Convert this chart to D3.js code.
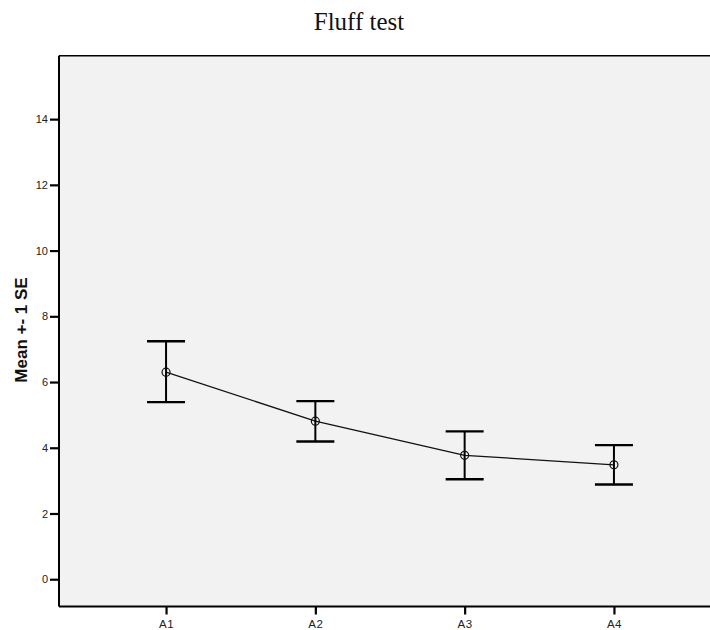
<!DOCTYPE html>
<html><head><meta charset="utf-8">
<script src="https://cdn.jsdelivr.net/npm/d3@7"></script>
<style>body{margin:0;background:#fff}svg{display:block}</style>
</head><body>
<script>
const categories = ["A1","A2","A3","A4"];
const means = [6.30, 4.81, 3.77, 3.48];
const upper = [7.24, 5.42, 4.50, 4.08];
const lower = [5.39, 4.19, 3.04, 2.88];
const yTicks = [0,2,4,6,8,10,12,14];
const title = "Fluff test";
const yLabel = "Mean +- 1 SE";

const W = 710, H = 630;
const pL = 59, pR = 721, pT = 55.7, pB = 606.5;
const svg = d3.select("body").append("svg").attr("width", W).attr("height", H);

const y = d3.scaleLinear().domain([-0.83, 15.93]).range([pB, pT]);
const x = d3.scalePoint().domain(categories).range([pL, pR]).padding(0.717);

svg.append("rect").attr("x", pL).attr("y", pT).attr("width", pR-pL).attr("height", pB-pT).attr("fill", "#f2f2f2");

// borders
svg.append("line").attr("x1", pL).attr("x2", pR).attr("y1", pT).attr("y2", pT).attr("stroke","#000").attr("stroke-width",1.6);
svg.append("line").attr("x1", pL).attr("x2", pR).attr("y1", pB).attr("y2", pB).attr("stroke","#000").attr("stroke-width",2);
svg.append("line").attr("x1", pL).attr("x2", pL).attr("y1", pT).attr("y2", pB).attr("stroke","#000").attr("stroke-width",2);

// y axis
const ya = svg.append("g").attr("transform", `translate(${pL},0)`)
  .call(d3.axisLeft(y).tickValues(yTicks).tickSize(9).tickPadding(2).tickFormat(d3.format("d")));
ya.select(".domain").remove();
ya.selectAll(".tick line").attr("stroke","#000").attr("stroke-width",2.2);
ya.selectAll(".tick text").attr("font-family","Liberation Sans, Arial, sans-serif").attr("font-size",11).attr("fill","#222");

// x axis
const xa = svg.append("g").attr("transform", `translate(0,${pB})`)
  .call(d3.axisBottom(x).tickSize(8).tickPadding(5));
xa.select(".domain").remove();
xa.selectAll(".tick line").attr("stroke","#000").attr("stroke-width",2.2);
xa.selectAll(".tick text").attr("font-family","Liberation Sans, Arial, sans-serif").attr("font-size",11.5).attr("fill","#222").attr("letter-spacing","0.5px");

// line
const line = d3.line().x((d,i)=>x(categories[i])).y(d=>y(d));
svg.append("path").datum(means).attr("d", line).attr("fill","none").attr("stroke","#111").attr("stroke-width",1.3);

// error bars
const capW = 19;
const eb = svg.append("g");
categories.forEach((c,i)=>{
  const cx = x(c);
  eb.append("line").attr("x1",cx).attr("x2",cx).attr("y1",y(upper[i])).attr("y2",y(lower[i])).attr("stroke","#000").attr("stroke-width",2);
  eb.append("line").attr("x1",cx-capW).attr("x2",cx+capW).attr("y1",y(upper[i])).attr("y2",y(upper[i])).attr("stroke","#000").attr("stroke-width",2.4);
  eb.append("line").attr("x1",cx-capW).attr("x2",cx+capW).attr("y1",y(lower[i])).attr("y2",y(lower[i])).attr("stroke","#000").attr("stroke-width",2.4);
  eb.append("circle").attr("cx",cx).attr("cy",y(means[i])).attr("r",4).attr("fill","none").attr("stroke","#111").attr("stroke-width",1.2);
});

// title
svg.append("text").attr("x",359).attr("y",30).attr("text-anchor","middle")
  .attr("font-family","Liberation Serif, Times New Roman, serif").attr("font-size",25).attr("fill","#111").text(title);

// y label
svg.append("text").attr("transform","translate(27,330) rotate(-90)").attr("text-anchor","middle")
  .attr("font-family","Liberation Sans, Arial, sans-serif").attr("font-weight","bold").attr("font-size",17).attr("fill","#111").text(yLabel);
</script>
</body></html>
